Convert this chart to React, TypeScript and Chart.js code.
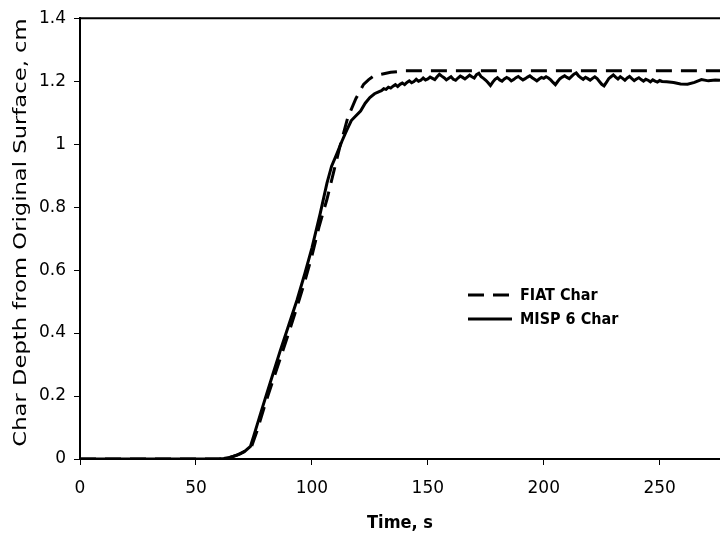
import { useEffect, useRef } from "react";
import { Chart, registerables } from "chart.js";

Chart.register(...registerables);

// ---- data ----
const xTicks = [0, 50, 100, 150, 200, 250];
const yTicks = [0, 0.2, 0.4, 0.6, 0.8, 1, 1.2, 1.4];
const yTickLabels = ["0", "0.2", "0.4", "0.6", "0.8", "1", "1.2", "1.4"];
const xMax = 276;

const seriesNames = ["FIAT Char", "MISP 6 Char"];

const fiatTime = [0, 60, 63, 66, 69, 72, 74, 76.3, 80, 83, 86.4, 90, 94.3, 97, 100, 103, 106.5, 109.4, 112, 115.5, 119, 122.3, 124.5, 126.6, 130, 134, 140, 276];
const fiatDepth = [0, 0, 0.003, 0.008, 0.016, 0.028, 0.04, 0.088, 0.178, 0.245, 0.32, 0.4, 0.5, 0.565, 0.645, 0.735, 0.825, 0.912, 0.99, 1.085, 1.145, 1.19, 1.205, 1.216, 1.222, 1.228, 1.233, 1.233];

const mispRiseTime = [0, 60, 62, 65, 68, 71, 73.5, 75, 77.7, 80, 83, 86.4, 90, 93.6, 97, 100, 103.6, 106.5, 108.5, 110.8, 113, 115.1, 117, 119, 121, 123, 125, 127, 129];
const mispRiseDepth = [0, 0, 0.002, 0.006, 0.013, 0.024, 0.04, 0.075, 0.14, 0.195, 0.265, 0.345, 0.425, 0.505, 0.59, 0.67, 0.78, 0.876, 0.93, 0.97, 1.01, 1.045, 1.075, 1.09, 1.105, 1.13, 1.148, 1.16, 1.167];

// plateau sampled every 1 s starting at 130 s
const mispPlateauStart = 130;
const mispPlateauDepth = [
  1.170, 1.176, 1.174, 1.181, 1.178, 1.184, 1.189, 1.183, 1.190, 1.194,
  1.189, 1.196, 1.201, 1.195, 1.199, 1.206, 1.200, 1.203, 1.210, 1.204,
  1.207, 1.213, 1.209, 1.205, 1.214, 1.222, 1.216, 1.211, 1.204, 1.209,
  1.214, 1.206, 1.203, 1.210, 1.216, 1.212, 1.207, 1.213, 1.219, 1.214,
  1.210, 1.221, 1.225, 1.214, 1.209, 1.203, 1.195, 1.186, 1.197, 1.206,
  1.211, 1.204, 1.200, 1.207, 1.212, 1.208, 1.201, 1.205, 1.211, 1.215,
  1.209, 1.204, 1.208, 1.213, 1.217, 1.211, 1.206, 1.201, 1.207, 1.212,
  1.209, 1.214, 1.210, 1.204, 1.196, 1.189, 1.199, 1.208, 1.213, 1.217,
  1.212, 1.208, 1.215, 1.222, 1.226, 1.217, 1.211, 1.206, 1.212, 1.208,
  1.203, 1.209, 1.214, 1.208, 1.199, 1.190, 1.185, 1.196, 1.208, 1.214,
  1.220, 1.213, 1.207, 1.214, 1.209, 1.203, 1.210, 1.215, 1.208, 1.202,
  1.207, 1.211, 1.205, 1.200, 1.206, 1.203, 1.198, 1.204, 1.200, 1.197,
  1.202, 1.199,
];

const mispTailTime = [253, 256, 259, 262, 265, 268, 271, 274, 276];
const mispTailDepth = [1.198, 1.196, 1.191, 1.190, 1.196, 1.205, 1.201, 1.204, 1.203];

// ---- helpers ----
const fiatPoints = fiatTime.map((t, i) => ({ x: t, y: fiatDepth[i] }));
const mispPoints = [
  ...mispRiseTime.map((t, i) => ({ x: t, y: mispRiseDepth[i] })),
  ...mispPlateauDepth.map((d, i) => ({ x: mispPlateauStart + i, y: d })),
  ...mispTailTime.map((t, i) => ({ x: t, y: mispTailDepth[i] })),
];

const DASH = [16, 9];

const decorPlugin = {
  id: "decor",
  afterDraw(chart: any) {
    const { ctx, chartArea } = chart;
    ctx.save();
    // top border
    ctx.strokeStyle = "#000";
    ctx.lineWidth = 2;
    ctx.beginPath();
    ctx.moveTo(chartArea.left, chartArea.top);
    ctx.lineTo(chartArea.right, chartArea.top);
    ctx.stroke();

    // legend
    const ds = chart.data.datasets;
    const lx0 = 468;
    const lx1 = 512;
    const rows = [295, 319];
    ctx.font = "bold 16px 'DejaVu Sans Condensed', 'DejaVu Sans', sans-serif";
    ctx.textBaseline = "middle";
    ctx.textAlign = "left";
    ctx.fillStyle = "#000";
    ds.forEach((d: any, i: number) => {
      ctx.save();
      ctx.lineWidth = 3;
      ctx.strokeStyle = d.borderColor;
      ctx.setLineDash(d.borderDash || []);
      ctx.beginPath();
      ctx.moveTo(lx0, rows[i]);
      ctx.lineTo(lx1, rows[i]);
      ctx.stroke();
      ctx.restore();
      ctx.fillText(d.label, 520, rows[i] + 1);
    });

    // y-axis title
    ctx.translate(25.5, 232.5);
    ctx.rotate(-Math.PI / 2);
    ctx.scale(1.26, 1);
    ctx.font = "18px 'DejaVu Sans', sans-serif";
    ctx.textAlign = "center";
    ctx.textBaseline = "alphabetic";
    ctx.fillText("Char Depth from Original Surface, cm", 0, 0);
    ctx.restore();
  },
};

export default function App() {
  const ref = useRef<HTMLCanvasElement | null>(null);

  useEffect(() => {
    if (!ref.current) return;
    const chart = new Chart(ref.current, {
      type: "line",
      data: {
        datasets: [
          {
            label: seriesNames[0],
            data: fiatPoints,
            borderColor: "#000",
            borderWidth: 3,
            borderDash: DASH,
            pointRadius: 0,
            tension: 0,
            fill: false,
          },
          {
            label: seriesNames[1],
            data: mispPoints,
            borderColor: "#000",
            borderWidth: 3,
            pointRadius: 0,
            tension: 0,
            fill: false,
          },
        ],
      },
      options: {
        animation: false,
        responsive: false,
        maintainAspectRatio: false,
        layout: { padding: { top: 13, right: 0, left: 0, bottom: 0 } },
        plugins: {
          legend: { display: false },
          tooltip: { enabled: false },
          title: { display: false },
        },
        scales: {
          x: {
            type: "linear",
            min: 0,
            max: xMax,
            afterBuildTicks: (s: any) => {
              s.ticks = xTicks.map((v) => ({ value: v }));
            },
            afterFit: (s: any) => {
              s.height = 78;
            },
            grid: { drawOnChartArea: false, tickLength: 6, tickWidth: 1, tickColor: "#000" },
            border: { color: "#000", width: 2 },
            ticks: {
              color: "#000",
              padding: 13,
              maxRotation: 0,
              font: { family: "'DejaVu Sans', sans-serif", size: 17 },
            },
            title: {
              display: true,
              text: "Time, s",
              color: "#000",
              padding: { top: 0, bottom: 3 },
              font: { family: "'DejaVu Sans Condensed', 'DejaVu Sans', sans-serif", size: 18, weight: "bold" },
            },
          },
          y: {
            type: "linear",
            min: 0,
            max: 1.4,
            afterBuildTicks: (s: any) => {
              s.ticks = yTicks.map((v) => ({ value: v }));
            },
            afterFit: (s: any) => {
              s.width = 80;
            },
            grid: { drawOnChartArea: false, tickLength: 6, tickWidth: 1, tickColor: "#000" },
            border: { color: "#000", width: 2 },
            ticks: {
              color: "#000",
              padding: 8,
              font: { family: "'DejaVu Sans', sans-serif", size: 17 },
              callback: (_v: any, i: number) => yTickLabels[i],
            },
          },
        },
      },
      plugins: [decorPlugin],
    });
    return () => chart.destroy();
  }, []);

  return (
    <div style={{ position: "absolute", left: 0, top: 0, width: 720, height: 537, background: "#fff" }}>
      <canvas ref={ref} width={720} height={537} style={{ width: 720, height: 537 }} />
    </div>
  );
}
